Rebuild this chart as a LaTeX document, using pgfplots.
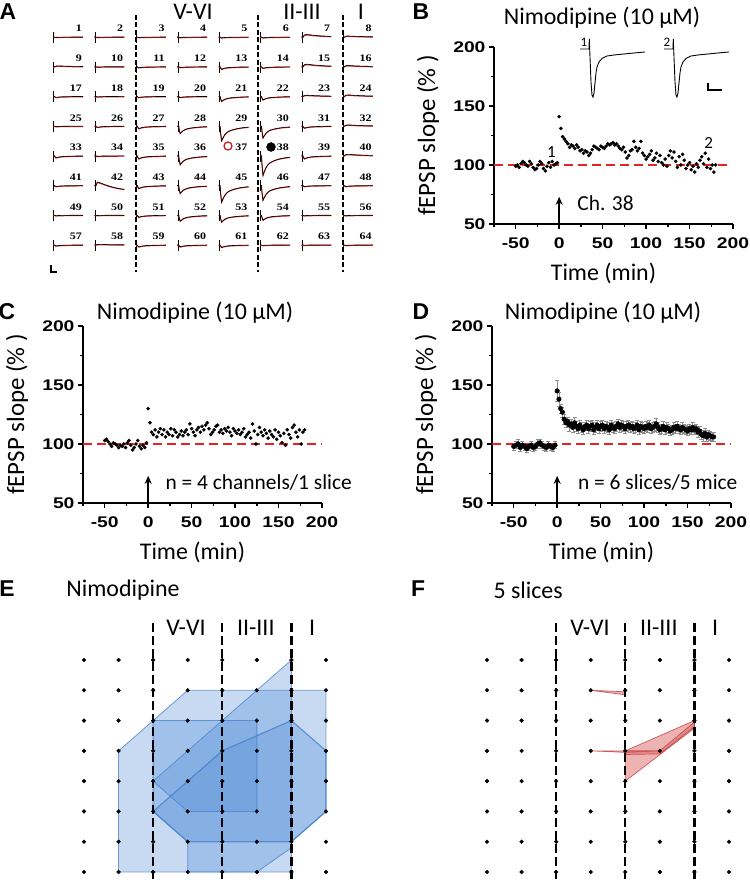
\documentclass[border=0pt]{standalone}
\usepackage{pgfplots}
\pgfplotsset{compat=1.18}
\usepackage{pgfplotstable}
\usetikzlibrary{arrows.meta}
\usepackage{fontspec}
\setmainfont{Carlito}
\newfontfamily\arialfont{Liberation Sans}
\newfontfamily\arialwide{Liberation Sans}[FakeStretch=1.25]
\newfontfamily\timeswide{Liberation Serif}[FakeStretch=1.2]

\definecolor{dashred}{RGB}{228,35,35}
\definecolor{polyblue}{RGB}{80,140,215}
\definecolor{edgeblue}{RGB}{70,125,205}
\definecolor{polyred}{RGB}{215,85,85}
\definecolor{edgered}{RGB}{195,60,60}
\definecolor{tracered}{RGB}{200,30,30}

\newcommand\labfont{\fontsize{24}{28}\selectfont}
\newcommand\ylabfont{\fontsize{25}{28}\selectfont}
\newcommand\annfont{\fontsize{21.5}{25}\selectfont}
\newcommand\ticfont{\fontsize{15.5}{18}\selectfont\arialwide\bfseries}
\newcommand\letfont{\fontsize{23}{26}\selectfont\arialfont\bfseries}
\newcommand\numfont{\fontsize{10}{12}\selectfont\timeswide\bfseries}

% normalised waveforms for panel A (t in px, v relative)
\pgfplotstableread{
t v
0 0
1.5 0
2 0.45
3 1
4 0.85
6 0.6
8 0.45
10 0.35
13 0.27
16 0.21
20 0.15
25 0.1
30 0.07
}\dipwave
\pgfplotstableread{
t v
0 0
1.5 0
3 -0.8
5 -1
8 -0.9
12 -0.7
18 -0.5
24 -0.35
30 -0.25
}\humpwave
\pgfplotstableread{
t v
0 0
1.5 0
3 -1
5 -0.85
10 -0.3
15 0.2
20 0.6
25 0.9
30 1.1
}\driftwave
% inset trace of panel B (t offset px, y px from top)
\pgfplotstableread{
t y
-9 49
0 49
0.3 39
0.7 50
1.2 62
2 82
3 95
4 97
5 93
6 83
7 73
8 67
10 62
13 58.5
18 56
25 55
35 54
45 53
56 52
}\insettrace

\pgfplotstableread[row sep=\\]{c r\\1 1\\2 1\\3 1\\4 1\\5 1\\6 1\\7 1\\8 1\\1 2\\2 2\\3 2\\4 2\\5 2\\6 2\\7 2\\8 2\\1 3\\2 3\\3 3\\4 3\\5 3\\6 3\\7 3\\8 3\\1 4\\2 4\\3 4\\4 4\\5 4\\6 4\\7 4\\8 4\\1 5\\2 5\\3 5\\4 5\\5 5\\6 5\\7 5\\8 5\\1 6\\2 6\\3 6\\4 6\\5 6\\6 6\\7 6\\8 6\\1 7\\2 7\\3 7\\4 7\\5 7\\6 7\\7 7\\8 7\\1 8\\2 8\\3 8\\4 8\\5 8\\6 8\\7 8\\8 8\\}\gridpts

\newcommand{\tr}[3]{%
 \pgfmathsetmacro\xo{53+mod(#1-1,8)*41.4}%
 \pgfmathsetmacro\yo{843-floor((#1-0.5)/8)*29.7}%
 \pgfmathsetmacro\xa{\xo+0.8}%
 \pgfmathsetmacro\ya{\yo+5}%
 \pgfmathsetmacro\yb{\yo-6}%
 \addplot[black, line width=0.8bp] coordinates {(\xa,\ya)(\xa,\yb)};
 \addplot[tracered, line width=1bp] table[x expr=\thisrow{t}+\xo, y expr=\yo-0.4-0.95*(#2)*\thisrow{v}]{#3};
 \addplot[black, line width=0.6bp] table[x expr=\thisrow{t}+\xo, y expr=\yo-(#2)*\thisrow{v}]{#3};
}

\pgfplotsset{
 ltp/.style={
  anchor=south west, scale only axis, width=239bp, height=177bp,
  xmin=-75, xmax=200, ymin=50, ymax=200,
  axis lines*=left, axis line style={line width=2bp, -},
  xtick={-50,0,50,100,150,200}, xticklabels={-50,0,50,100,150,200},
  minor xtick={-75,-25,25,75,125,175},
  ytick={50,100,150,200}, yticklabels={50,100,150,200},
  minor ytick={75,125,175},
  tick align=outside, major tick length=5bp, minor tick length=3bp,
  every tick/.style={black, line width=1.5bp},
  tick label style={font=\ticfont, text=black},
  xticklabel style={yshift=-5bp},
  clip=false,
  xlabel={Time (min)}, ylabel={fEPSP slope (\% )},
  xlabel style={font=\labfont, at={(axis description cs:0.458,-0.277)}, anchor=center},
  ylabel style={font=\ylabfont, at={(axis description cs:-0.276,0.5)}, anchor=center},
 },
 baseline/.style={dashred, line width=2.4bp, dash pattern=on 9bp off 5bp},
 dots/.style={only marks, mark=*, mark size=1.6bp, black},
 stimarrow/.style={black, line width=1.8bp, -{Stealth[length=8bp,width=7bp]}},
}

\begin{document}
\begin{tikzpicture}
\path[use as bounding box] (0,0) rectangle (750bp,880bp);

% ================= canvas: panel A, letters, titles, inset of B =================
\begin{axis}[at={(0,0)}, anchor=south west, scale only axis, width=750bp, height=880bp,
  xmin=0, xmax=750, ymin=0, ymax=880, hide axis, clip=false]
% traces: channel, amplitude (px, + = negative-going fEPSP), waveform
\tr{1}{0.3}{\dipwave}\tr{2}{0.3}{\dipwave}\tr{3}{0.5}{\dipwave}\tr{4}{0.5}{\dipwave}
\tr{5}{0.8}{\dipwave}\tr{6}{0.8}{\dipwave}\tr{7}{2.5}{\humpwave}\tr{8}{1}{\humpwave}
\tr{9}{0.8}{\humpwave}\tr{10}{0.3}{\dipwave}\tr{11}{1}{\dipwave}\tr{12}{0.8}{\dipwave}
\tr{13}{2.5}{\dipwave}\tr{14}{1.5}{\dipwave}\tr{15}{2.5}{\humpwave}\tr{16}{1.2}{\humpwave}
\tr{17}{1}{\dipwave}\tr{18}{0.5}{\dipwave}\tr{19}{1}{\dipwave}\tr{20}{1}{\dipwave}
\tr{21}{5}{\dipwave}\tr{22}{3.5}{\dipwave}\tr{23}{1.2}{\humpwave}\tr{24}{1.5}{\humpwave}
\tr{25}{0.5}{\dipwave}\tr{26}{1.2}{\dipwave}\tr{27}{2.5}{\dipwave}\tr{28}{7.5}{\dipwave}
\tr{29}{15}{\dipwave}\tr{30}{12}{\dipwave}\tr{31}{2}{\dipwave}\tr{32}{1.2}{\humpwave}
\tr{33}{2}{\dipwave}\tr{34}{0.5}{\dipwave}\tr{35}{3}{\dipwave}\tr{36}{9}{\dipwave}
\tr{38}{20}{\dipwave}\tr{39}{3}{\dipwave}\tr{40}{1.5}{\humpwave}
\tr{41}{1}{\dipwave}\tr{42}{3.5}{\driftwave}\tr{43}{3}{\dipwave}\tr{44}{8}{\dipwave}
\tr{45}{17}{\dipwave}\tr{46}{15}{\dipwave}\tr{47}{1}{\dipwave}\tr{48}{1}{\dipwave}
\tr{49}{0.5}{\dipwave}\tr{50}{0.3}{\dipwave}\tr{51}{2}{\dipwave}\tr{52}{6}{\dipwave}
\tr{53}{7}{\dipwave}\tr{54}{5}{\dipwave}\tr{55}{0.5}{\dipwave}\tr{56}{0.5}{\dipwave}
\tr{57}{1}{\dipwave}\tr{58}{0.5}{\humpwave}\tr{59}{2}{\dipwave}\tr{60}{2}{\dipwave}
\tr{61}{2.5}{\dipwave}\tr{62}{0.5}{\dipwave}\tr{63}{0.3}{\dipwave}\tr{64}{0.5}{\dipwave}
% channel numbers
\addplot[only marks, mark=none, nodes near coords, point meta=explicit symbolic,
  nodes near coords style={anchor=base east, font=\numfont, inner sep=0pt, text=black}]
  table[row sep=\\, x expr={82+mod(\thisrow{n}-1,8)*41.4}, y expr={848-floor((\thisrow{n}-0.5)/8)*29.7}, meta=n]
  {n\\1\\2\\3\\4\\5\\6\\7\\8\\9\\10\\11\\12\\13\\14\\15\\16\\17\\18\\19\\20\\21\\22\\23\\24\\25\\26\\27\\28\\29\\30\\31\\32\\33\\34\\35\\36\\37\\38\\39\\40\\41\\42\\43\\44\\45\\46\\47\\48\\49\\50\\51\\52\\53\\54\\55\\56\\57\\58\\59\\60\\61\\62\\63\\64\\};
% layer boundaries in A
\addplot[black, line width=2.6bp, dash pattern=on 5bp off 2.5bp] coordinates {(136,865)(136,608)};
\addplot[black, line width=2.6bp, dash pattern=on 5bp off 2.5bp] coordinates {(258,865)(258,608)};
\addplot[black, line width=2.6bp, dash pattern=on 5bp off 2.5bp] coordinates {(343,865)(343,608)};
% stimulation / recording sites
\addplot[only marks, mark=o, mark size=4bp, tracered, line width=1.3bp] coordinates {(228,734)};
\addplot[only marks, mark=*, mark size=4.5bp, black] coordinates {(271,733)};
% scale bar A
\addplot[black, line width=1.3bp] coordinates {(51,615)(51,608)(57,608)};
\node[font=\labfont] at (axis cs:193,868) {V-VI};
\node[font=\labfont] at (axis cs:302,868) {II-III};
\node[font=\labfont] at (axis cs:361,868) {I};
% panel letters
\node[font=\letfont] at (axis cs:8,868) {A};
\node[font=\letfont] at (axis cs:421,868) {B};
\node[font=\letfont] at (axis cs:7,568) {C};
\node[font=\letfont] at (axis cs:421,568) {D};
\node[font=\letfont] at (axis cs:7,291) {E};
\node[font=\letfont] at (axis cs:418,291) {F};
% titles
\node[font=\labfont] at (axis cs:602,862) {Nimodipine (10 µM)};
\node[font=\labfont] at (axis cs:195,567) {Nimodipine (10 µM)};
\node[font=\labfont] at (axis cs:603,567) {Nimodipine (10 µM)};
\node[font=\labfont] at (axis cs:123,290) {Nimodipine};
\node[font=\labfont, anchor=west] at (axis cs:490,290) {5 slices};
% inset traces of B
\addplot[black, line width=0.9bp] table[x expr=\thisrow{t}+589, y expr=880-\thisrow{y}] {\insettrace};
\addplot[black, line width=0.9bp] table[x expr=\thisrow{t}+673, y expr=880-\thisrow{y}] {\insettrace};
\addplot[black, line width=1.3bp] coordinates {(708,797)(708,790)(722,790)};
\node[font=\fontsize{13}{15}\selectfont] at (axis cs:584,838) {1};
\node[font=\fontsize{13}{15}\selectfont] at (axis cs:667,838) {2};
\end{axis}

% ================= B =================
\begin{axis}[ltp, at={(494bp,656bp)}]
\addplot[dots] coordinates {
(-50,99)(-48,100)(-46,98)(-44,101)(-42,103)(-40,102)(-38,100)(-36,99)(-34,103)(-32,101)
(-30,98)(-28,96)(-26,97)(-24,100)(-22,103)(-20,101)(-18,97)(-16,95)(-14,99)(-12,102)
(-10,98)(-8,103)(-6,100)(-4,101)(-2,102)
(0,141)(2,131)(4,124)(6,122)(8,120)(10,118)(12,115)(14,117)(16,116)(18,114)
(20,117)(22,115)(24,112)(26,113)(28,110)(30,112)(32,111)(34,108)(36,110)(38,113)
(40,116)(42,115)(44,114)(46,113)(48,116)(50,115)(52,114)(54,116)(56,118)(58,117)
(60,118)(62,119)(64,117)(66,118)(68,116)(70,114)(72,113)(74,115)(76,111)(78,106)
(80,108)(82,112)(84,113)(86,120)(88,115)(90,112)(92,114)(94,120)(96,110)(98,108)
(100,105)(102,107)(104,109)(106,112)(108,104)(110,106)(112,110)(114,103)(116,108)(118,102)
(120,100)(122,105)(124,99)(126,108)(128,112)(130,106)(132,111)(134,103)(136,98)(138,107)
(140,100)(142,109)(144,104)(146,97)(148,100)(150,102)(152,96)(154,99)(156,94)(158,101)
(160,98)(162,104)(164,107)(166,101)(168,110)(170,98)(172,105)(174,97)(176,100)(178,94)(180,100)};
\addplot[baseline] coordinates {(-75,100)(197,100)};
\addplot[stimarrow] coordinates {(0,50)(0,73)};
\node[font=\annfont, anchor=west] at (axis cs:17,68) {Ch. 38};
\node[font=\fontsize{17}{20}\selectfont] at (axis cs:-9,111) {1};
\node[font=\fontsize{17}{20}\selectfont] at (axis cs:172,119) {2};
\end{axis}

% ================= C =================
\begin{axis}[ltp, at={(83bp,377bp)}]
\addplot[dots] coordinates {
(-50,103)(-48,104)(-46,102)(-44,100)(-42,98)(-40,101)(-38,100)(-36,99)(-34,97)(-32,99)
(-30,98)(-28,100)(-26,97)(-24,101)(-22,103)(-20,99)(-18,95)(-16,97)(-14,100)(-12,103)
(-10,98)(-8,96)(-6,99)(-4,97)(-2,101)
(0,130)(2,118)(4,110)(6,108)(8,112)(10,106)(12,110)(14,113)(16,108)(18,112)
(20,106)(22,110)(24,108)(26,113)(28,107)(30,112)(32,110)(34,106)(36,108)(38,111)
(40,107)(42,110)(44,112)(46,108)(48,117)(50,113)(52,110)(54,107)(56,112)(58,114)
(60,110)(62,115)(64,112)(66,116)(68,118)(70,113)(72,108)(74,110)(76,112)(78,115)
(80,116)(82,110)(84,112)(86,109)(88,113)(90,111)(92,114)(94,110)(96,107)(98,113)
(100,111)(102,109)(104,112)(106,108)(108,110)(110,113)(112,106)(114,108)(116,110)(118,105)
(120,117)(122,111)(124,100)(126,108)(128,114)(130,110)(132,107)(134,112)(136,109)(138,105)
(140,111)(142,108)(144,106)(146,112)(148,104)(150,110)(152,107)(154,101)(156,109)(158,99)
(160,112)(162,108)(164,105)(166,114)(168,116)(170,110)(172,106)(174,112)(176,100)(178,110)(180,112)};
\addplot[baseline] coordinates {(-75,100)(199,100)};
\addplot[stimarrow] coordinates {(0,50)(0,73)};
\node[font=\annfont, anchor=west] at (axis cs:16,67) {n = 4 channels/1 slice};
\end{axis}

% ================= D =================
\begin{axis}[ltp, at={(492bp,377bp)}]
\addplot[only marks, mark=*, mark size=2.3bp, black,
  error bars/.cd, y dir=both, y explicit,
  error bar style={black!45, line width=0.6bp},
  error mark options={rotate=90, black!45, mark size=2bp, line width=0.6bp}]
  table[row sep=\\, x=x, y=y, y error=e] {x y e\\
-50 98 3\\-47.5 99 3\\-45 100 4\\-42.5 97 3\\-40 99 3\\-37.5 98 3\\-35 96 3\\-32.5 98 3\\-30 99 3\\-27.5 97 3\\
-25 98 3\\-22.5 100 4\\-20 101 3\\-17.5 99 3\\-15 98 3\\-12.5 97 3\\-10 99 3\\-7.5 98 3\\-5 97 3\\-2.5 99 3\\
0 145 9\\2 138 6\\4 130 4\\6 127 4\\8 121 4\\10 118 4\\12 119 4\\14 116 5\\16 117 4\\18 114 4\\
20 118 5\\22 115 4\\24 113 4\\26 116 4\\28 114 4\\30 112 4\\32 115 3\\34 116 4\\36 113 4\\38 115 4\\
40 116 4\\42 112 4\\44 114 4\\46 116 4\\48 113 4\\50 115 4\\52 116 4\\54 113 4\\56 115 4\\58 114 4\\
60 112 4\\62 116 4\\64 114 4\\66 113 4\\68 115 4\\70 117 4\\72 114 4\\74 116 4\\76 115 4\\78 113 4\\
80 115 4\\82 116 4\\84 114 4\\86 115 4\\88 113 4\\90 114 4\\92 116 4\\94 112 4\\96 115 4\\98 114 4\\
100 113 4\\102 115 4\\104 114 4\\106 116 4\\108 113 4\\110 114 4\\112 115 4\\114 117 5\\116 114 4\\118 112 4\\
120 113 4\\122 115 4\\124 112 4\\126 114 4\\128 113 4\\130 111 4\\132 112 4\\134 114 4\\136 113 4\\138 115 4\\
140 113 4\\142 112 4\\144 114 4\\146 113 4\\148 112 4\\150 111 4\\152 113 4\\154 112 4\\156 114 4\\158 112 4\\
160 113 4\\162 110 4\\164 111 4\\166 108 4\\168 107 5\\170 109 4\\172 106 4\\174 108 4\\176 107 4\\178 106 4\\180 106 4\\};
\addplot[baseline] coordinates {(-75,100)(200,100)};
\addplot[stimarrow] coordinates {(0,50)(0,73)};
\node[font=\annfont, anchor=west] at (axis cs:20,67) {n = 6 slices/5 mice};
\end{axis}

% ================= E =================
\begin{axis}[at={(84bp,8bp)}, anchor=south west, scale only axis, width=242bp, height=212bp,
  xmin=1, xmax=8, ymin=-8, ymax=-1, hide axis, clip=false]
\pgfplotsset{poly/.style={fill=polyblue, fill opacity=0.32, draw=edgeblue, draw opacity=0.75, line width=0.8bp}}
\addplot[poly] coordinates {(2,-4)(3,-3)(4,-2)(8,-2)(8,-6)(7,-7)(7,-8)(2,-8)} --cycle;
\addplot[poly] coordinates {(3,-5)(7,-1)(7,-7.2)(6,-8)(4,-8)(4,-7)(3,-6)} --cycle;
\addplot[poly] coordinates {(3,-3)(6,-3)(6,-6)(4,-6)(3,-5)} --cycle;
\addplot[poly, line width=1.2bp] coordinates {(3,-6)(5,-4)(7,-3)(8,-4)(8,-6)(7,-7)(6,-7)(4,-7)} --cycle;
\addplot[only marks, mark=*, mark size=1.9bp, black] table[x=c, y expr=-\thisrow{r}] {\gridpts};
\addplot[black, line width=2.4bp, dash pattern=on 9bp off 4bp] coordinates {(3,0.22)(3,-8.25)};
\addplot[black, line width=2.4bp, dash pattern=on 9bp off 4bp] coordinates {(5,0.22)(5,-8.25)};
\addplot[black, line width=2.4bp, dash pattern=on 9bp off 4bp] coordinates {(7,0.22)(7,-8.25)};
\node[font=\labfont] at (axis cs:3.95,0.05) {V-VI};
\node[font=\labfont] at (axis cs:5.97,0.05) {II-III};
\node[font=\labfont] at (axis cs:7.6,0.05) {I};
\end{axis}

% ================= F =================
\begin{axis}[at={(487bp,8bp)}, anchor=south west, scale only axis, width=242bp, height=212bp,
  xmin=1, xmax=8, ymin=-8, ymax=-1, hide axis, clip=false]
\pgfplotsset{rpoly/.style={fill=polyred, fill opacity=0.45, draw=edgered, draw opacity=0.8, line width=0.7bp}}
\addplot[rpoly] coordinates {(4,-2)(5,-2.05)(5,-2.15)} --cycle;
\addplot[rpoly] coordinates {(4,-4)(5,-4)(6,-4)(5,-4.05)} --cycle;
\addplot[rpoly] coordinates {(5,-4)(7,-3)(7,-3.25)(5,-5)} --cycle;
\addplot[rpoly] coordinates {(5,-4)(6,-4)(7,-3.05)(7,-3.2)(6,-4.1)(5,-4.12)} --cycle;
\addplot[only marks, mark=*, mark size=1.9bp, black] table[x=c, y expr=-\thisrow{r}] {\gridpts};
\addplot[black, line width=2.4bp, dash pattern=on 9bp off 4bp] coordinates {(3,0.22)(3,-8.25)};
\addplot[black, line width=2.4bp, dash pattern=on 9bp off 4bp] coordinates {(5,0.22)(5,-8.25)};
\addplot[black, line width=2.4bp, dash pattern=on 9bp off 4bp] coordinates {(7,0.22)(7,-8.25)};
\node[font=\labfont] at (axis cs:3.98,0.05) {V-VI};
\node[font=\labfont] at (axis cs:5.97,0.05) {II-III};
\node[font=\labfont] at (axis cs:7.6,0.05) {I};
\end{axis}
\end{tikzpicture}
\end{document}
